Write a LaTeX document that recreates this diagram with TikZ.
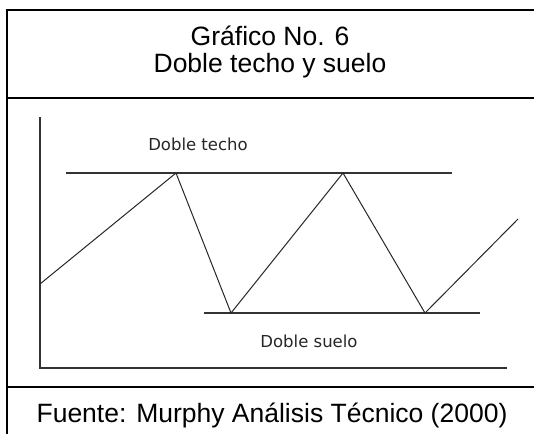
\documentclass[tikz,border=0pt]{standalone}
\usepackage{fontspec}
\setmainfont{Liberation Sans}
\newfontfamily\chartfont{DejaVu Sans}
\begin{document}
\begin{tikzpicture}[x=1pt,y=-1pt,
  frameline/.style={line width=2pt,black},
  chartline/.style={line width=1pt,black!85},
  axisline/.style={line width=1.2pt,black!80},
  titletext/.style={inner sep=0pt,anchor=base,font=\fontsize{26.5}{30}\selectfont},
  charttext/.style={inner sep=0pt,anchor=base,text=black!85,font=\chartfont\fontsize{16.5}{20}\selectfont}]
\useasboundingbox (0,0) rectangle (534,434);
% frame
\draw[frameline] (534,10) -- (7,10) -- (7,434);
\draw[frameline] (7,98) -- (534,98);
\draw[frameline] (7,387) -- (534,387);
% titles
\node[titletext] (t1) at (270,45) {Gráfico No. 6};
\node[titletext] (t2) at (270,72) {Doble techo y suelo};
\node[titletext] (src) at (272,422) {Fuente: Murphy Análisis Técnico (2000)};
% axes
\coordinate (ytop) at (40,117);
\coordinate (orig) at (40,368);
\coordinate (xend) at (507,368);
\draw[axisline] (ytop) -- (orig) -- (xend);
% resistance / support lines
\coordinate (r1) at (66,173);
\coordinate (r2) at (452,173);
\coordinate (s1) at (204,313);
\coordinate (s2) at (480,313);
\draw[axisline] (r1) -- (r2);
\draw[axisline] (s1) -- (s2);
% zigzag price path
\coordinate (a) at (40,284);
\coordinate (p1) at (176,173);
\coordinate (b1) at (231,313);
\coordinate (p2) at (343,173);
\coordinate (b2) at (425,313);
\coordinate (e) at (518,219);
\draw[chartline,line join=round] (a) -- (p1) -- (b1) -- (p2) -- (b2) -- (e);
% labels
\node[charttext] (lt) at (198,150) {Doble techo};
\node[charttext] (ls) at (309,347) {Doble suelo};
\end{tikzpicture}
\end{document}
